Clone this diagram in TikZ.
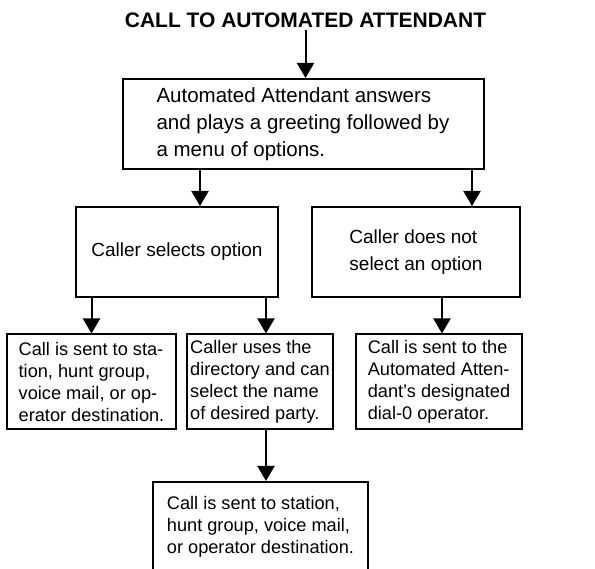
\documentclass[tikz,border=0pt]{standalone}
\usepackage{fontspec}
\setmainfont{Liberation Sans}
\usetikzlibrary{arrows.meta}

\begin{document}
\begin{tikzpicture}[x=1pt, y=-1pt,
        step box/.style={draw, line width=2pt, fill=white, align=left, inner sep=0pt},
        big/.style={font=\fontsize{20.5}{27}\selectfont},
        mid/.style={font=\fontsize{19}{27}\selectfont},
        small/.style={font=\fontsize{18.2}{22}\selectfont},
        flow/.style={line width=2pt, -{Triangle[width=17pt,length=15pt]}},
    ]
        \useasboundingbox (0,0) rectangle (595,569);

        \node[font=\fontsize{21}{24}\selectfont\bfseries, inner sep=2pt] (title) at (305.5,20) {CALL TO AUTOMATED ATTENDANT};

        \node[step box, big, minimum width=361pt, minimum height=90pt] (attend) at (303,124) {%
            Automated Attendant answers\\
            and plays a greeting followed by\\
            a menu of options.};

        \node[step box, mid, minimum width=202pt, minimum height=90pt] (sel) at (177,252) {Caller selects option};
        \node[step box, mid, minimum width=208pt, minimum height=90pt] (nosel) at (416,252) {%
            Caller does not\\
            select an option};

        \node[step box, small, minimum width=169pt, minimum height=95pt] (station) at (91.5,382) {%
            Call is sent to sta-\\
            tion, hunt group,\\
            voice mail, or op-\\
            erator destination.};
        \node[step box, small, minimum width=146pt, minimum height=95pt] (dir) at (260,382) {%
            Caller uses the\\
            directory and can\\
            select the name\\
            of desired party.};
        \node[step box, small, minimum width=166pt, minimum height=95pt] (dial0) at (439,382) {%
            Call is sent to the\\
            Automated Atten-\\
            dant's designated\\
            dial-0 operator.};

        \node[step box, small, minimum width=215pt, minimum height=90pt] (final) at (260.5,527) {%
            Call is sent to station,\\
            hunt group, voice mail,\\
            or operator destination.};

        \draw[flow] (title.south) -- (title.south |- attend.north);
        \draw[flow] ([xshift=23pt]sel.north |- attend.south) -- ([xshift=23pt]sel.north);
        \draw[flow] ([xshift=56pt]nosel.north |- attend.south) -- ([xshift=56pt]nosel.north);
        \draw[flow] (station.north |- sel.south) -- (station.north);
        \draw[flow] ([xshift=6pt]dir.north |- sel.south) -- ([xshift=6pt]dir.north);
        \draw[flow] ([xshift=3pt]dial0.north |- nosel.south) -- ([xshift=3pt]dial0.north);
        \draw[flow] ([xshift=6pt]dir.south) -- ([xshift=6pt]dir.south |- final.north);
    \end{tikzpicture}
\end{document}
